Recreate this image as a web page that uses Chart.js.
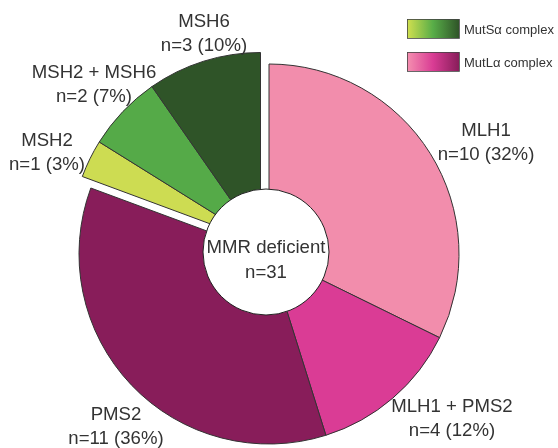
<!DOCTYPE html>
<html>
<head>
<meta charset="utf-8">
<script src="https://cdn.jsdelivr.net/npm/chart.js@4/dist/chart.umd.min.js"></script>
<style>
  html, body { margin: 0; padding: 0; background: #fff; }
  #wrap { width: 558px; height: 448px; }
</style>
</head>
<body>
<div id="wrap"><canvas id="mmrChart" width="558" height="448"></canvas></div>
<script>
// data, clockwise from 12 o'clock
const categories = ["MLH1", "MLH1 + PMS2", "PMS2", "MSH2", "MSH2 + MSH6", "MSH6"];
const counts = [10, 4, 11, 1, 2, 3];
const percents = [32, 12, 36, 3, 7, 10];
const totalLabel = ["MMR deficient", "n=31"];
const legendLabels = ["MutS\u03b1 complex", "MutL\u03b1 complex"];
const mutSIdx = [3, 4, 5];

const sliceColors = ["#f28dac", "#da3c95", "#881d5a", "#cddc52", "#55aa48", "#2f5428"];
const legendGrads = [["#d2e04f", "#58ad48", "#2f5428"], ["#f590b0", "#d93c94", "#881d5a"]];
const textColor = "#333";
const font = "'Liberation Sans', Arial, Helvetica, sans-serif";

// label anchors (centre x, first baseline y)
const labelPos = [[486, 136], [452, 412], [116, 420], [47, 146], [94, 78], [204, 27]];
const groupShift = { x: -8.5, y: -11.5 };

const shiftPlugin = {
    id: "shiftMutS",
    afterDatasetUpdate(chart) {
        const meta = chart.getDatasetMeta(0);
        mutSIdx.forEach(i => {
            meta.data[i].x += groupShift.x;
            meta.data[i].y += groupShift.y;
        });
    },
};

const decorPlugin = {
    id: "decor",
    afterDatasetsDraw(chart) {
        const ctx = chart.ctx;
        const arc0 = chart.getDatasetMeta(0).data[0];
        const cx = arc0.x - 3, cy = arc0.y - 2;

        // centre disc
        ctx.save();
        ctx.beginPath();
        ctx.arc(cx, cy, 63, 0, Math.PI * 2);
        ctx.fillStyle = "#fff";
        ctx.fill();
        ctx.lineWidth = 1;
        ctx.strokeStyle = "#222";
        ctx.stroke();

        ctx.fillStyle = textColor;
        ctx.textAlign = "center";
        ctx.textBaseline = "alphabetic";
        ctx.font = "18.6px " + font;
        ctx.fillText(totalLabel[0], cx, cy + 1);
        ctx.fillText(totalLabel[1], cx, cy + 26);

        // slice labels
        categories.forEach((c, i) => {
            const [x, y] = labelPos[i];
            ctx.fillText(c, x, y);
            ctx.fillText("n=" + counts[i] + " (" + percents[i] + "%)", x, y + 24);
        });

        // legend
        const boxes = [[407, 19], [407, 52]];
        ctx.font = "13px " + font;
        ctx.textAlign = "left";
        boxes.forEach(([x, y], i) => {
            const g = ctx.createLinearGradient(x, 0, x + 52, 0);
            g.addColorStop(0, legendGrads[i][0]);
            g.addColorStop(0.5, legendGrads[i][1]);
            g.addColorStop(1, legendGrads[i][2]);
            ctx.fillStyle = g;
            ctx.fillRect(x, y, 52, 19);
            ctx.strokeStyle = "#444";
            ctx.lineWidth = 0.8;
            ctx.strokeRect(x + 0.5, y + 0.5, 52, 19);
            ctx.fillStyle = textColor;
            ctx.fillText(legendLabels[i], x + 57, y + 15);
        });
        ctx.restore();
    },
};

new Chart(document.getElementById("mmrChart").getContext("2d"), {
    type: "pie",
    data: {
        labels: categories,
        datasets: [{
            data: counts,
            backgroundColor: sliceColors,
            borderColor: "#333",
            borderWidth: 1,
        }],
    },
    options: {
        responsive: false,
        animation: false,
        events: [],
        layout: { padding: { left: 78.5, right: 98.5, top: 63.5, bottom: 3.5 } },
        plugins: {
            legend: { display: false },
            tooltip: { enabled: false },
        },
    },
    plugins: [shiftPlugin, decorPlugin],
});
</script>
</body>
</html>
